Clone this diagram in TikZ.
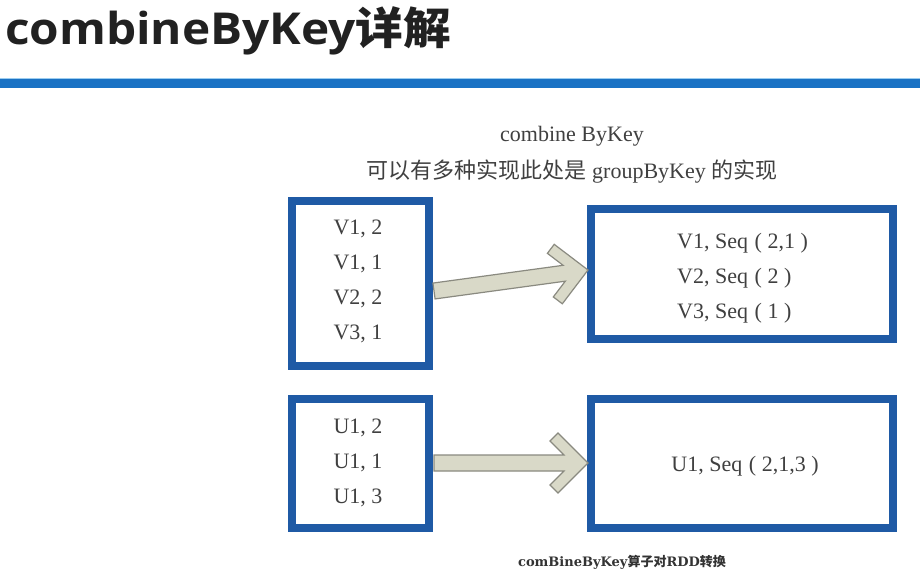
\documentclass[tikz,border=0pt]{standalone}
\usepackage{fontspec}
\setmainfont{Liberation Serif}
\newfontfamily\titlefont{Open Sans}
\newfontfamily\cjk{Noto Sans CJK SC}
\newfontfamily\capfont{DejaVu Serif}
\usetikzlibrary{calc}
\definecolor{boxblue}{HTML}{1F5AA5}
\definecolor{barblue}{HTML}{1A72C4}
\definecolor{barlight}{HTML}{9CCDF0}
\definecolor{txt}{HTML}{404040}
\definecolor{arrfill}{HTML}{D9D9C8}
\definecolor{arredge}{HTML}{8A8A80}
\begin{document}
\begin{tikzpicture}[x=1pt,y=-1pt,
  databox/.style={draw=boxblue, line width=8pt, fill=white, inner sep=0pt},
  boxtext/.style={text=txt, inner sep=0pt, font=\fontsize{22}{35}\selectfont},
  pics/blockarrow/.style={code={
    \filldraw[fill=arrfill, draw=arredge, line width=1.2pt, line join=miter]
      (0,8) -- ({#1-24},8) -- ({#1-38},22) -- ({#1-30},30) -- (#1,0)
      -- ({#1-30},-30) -- ({#1-38},-22) -- ({#1-24},-8) -- (0,-8) -- cycle;}}
]
\useasboundingbox (0,0) rectangle (920,575);
\fill[white] (0,0) rectangle (920,575);

% title and bar
\node[anchor=base west, inner sep=0pt, text=black!87] (title) at (5,45)
  {\scalebox{1.085}[1]{\titlefont\bfseries\fontsize{44}{44}\selectfont combineByKey{\cjk\bfseries 详解}}};
\fill[barblue] (0,79) rectangle (920,88.5);
\draw[barlight, line width=1.2pt] (0,78.4) -- (920,78.4);

% headings
\node[boxtext] (h1) at (572,136) {combine ByKey};
\node[boxtext] (h2) at (572,172) {{\cjk 可以有多种实现此处是} groupByKey {\cjk 的实现}};

% boxes
\node[databox, minimum width=137pt, minimum height=165pt] (lv) at (360.5,283.5) {};
\node[databox, minimum width=302pt, minimum height=130pt] (rv) at (742,274) {};
\node[databox, minimum width=137pt, minimum height=129pt] (lu) at (360.5,463.5) {};
\node[databox, minimum width=302pt, minimum height=129pt] (ru) at (742,463.5) {};

% box texts
\node[boxtext, align=center] (tlv) at (358,281) {V1, 2\\V1, 1\\V2, 2\\V3, 1};
\node[boxtext, align=left, anchor=west] (trv) at (677,278)
  {V1, Seq\hspace{0.3em}(\hspace{0.25em}2,1\hspace{0.25em})\\
   V2, Seq\hspace{0.3em}(\hspace{0.25em}2\hspace{0.25em})\\
   V3, Seq\hspace{0.3em}(\hspace{0.25em}1\hspace{0.25em})};
\node[boxtext, align=center] (tlu) at (358,463) {U1, 2\\U1, 1\\U1, 3};
\node[boxtext] (tru) at (745,466) {U1, Seq\hspace{0.3em}(\hspace{0.25em}2,1,3\hspace{0.25em})};

% connectors (block arrows)
\coordinate (a1s) at ($(lv.east)+(1,7.5)$);
\coordinate (a1e) at ($(rv.west)+(1,-4)$);
\coordinate (a2s) at ($(lu.east)+(1,-0.5)$);
\coordinate (a2e) at ($(ru.west)+(1,-0.5)$);
\path let \p1=(a1s), \p2=(a1e), \n1={atan2(\y2-\y1,\x2-\x1)}, \n2={veclen(\x2-\x1,\y2-\y1)} in
  pic[rotate=\n1] at (\p1) {blockarrow=\n2};
\path let \p1=(a2s), \p2=(a2e), \n1={atan2(\y2-\y1,\x2-\x1)}, \n2={veclen(\x2-\x1,\y2-\y1)} in
  pic[rotate=\n1] at (\p1) {blockarrow=\n2};

% caption
\node[text=black!80, inner sep=0pt] (cap) at (622,562)
  {\capfont\bfseries\fontsize{13}{13}\selectfont comBineByKey{\cjk\bfseries 算子对}RDD{\cjk\bfseries 转换}};
\end{tikzpicture}
\end{document}
